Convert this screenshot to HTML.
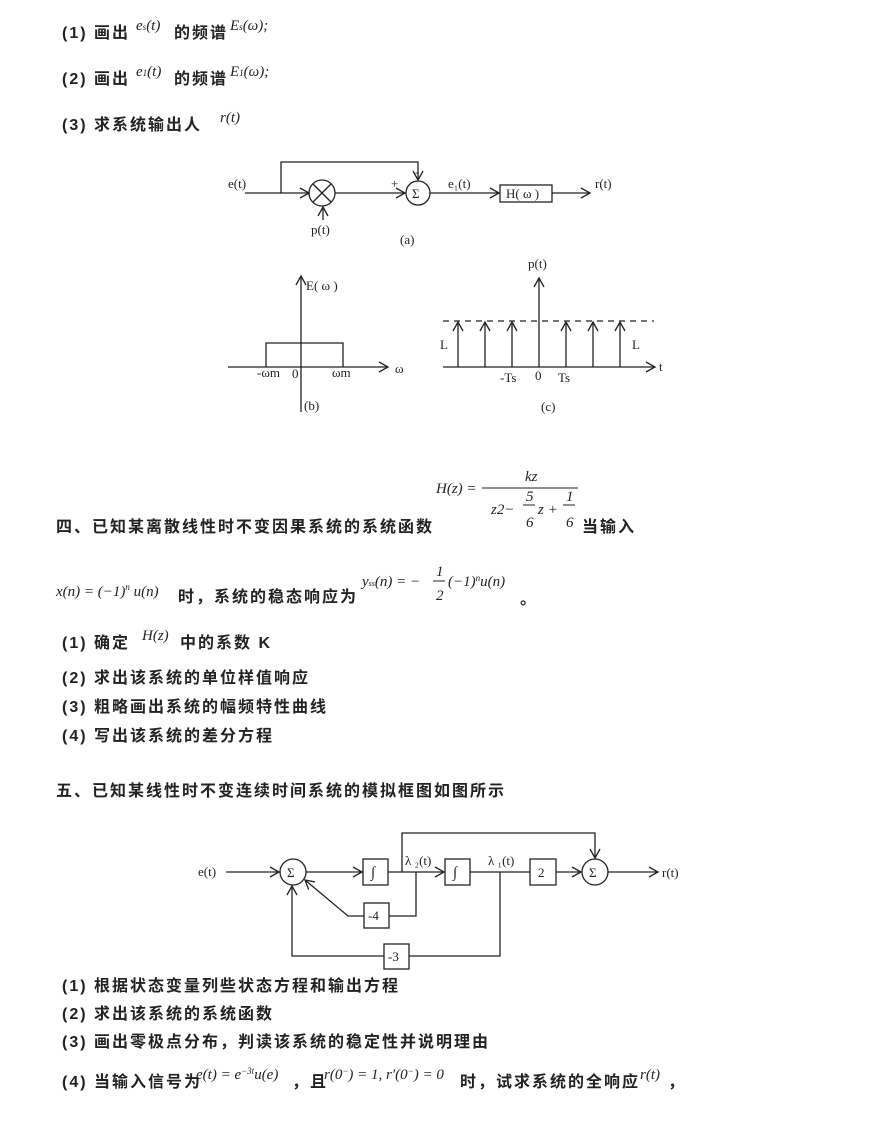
<!DOCTYPE html>
<html><head><meta charset="utf-8"><style>
html,body{margin:0;padding:0;background:#fff;}
svg{display:block}
.c{font-family:"Liberation Sans","Noto Sans CJK SC",sans-serif;font-size:16px;letter-spacing:2px;font-weight:bold;fill:#222}
.m{font-family:"Liberation Serif",serif;font-style:italic;font-size:15px;fill:#222}
.r{font-family:"Liberation Serif",serif;font-size:13px;fill:#222}
line,path,rect,circle,polyline{stroke:#222;stroke-width:1.3;fill:none}
</style></head><body>
<svg width="890" height="1122" viewBox="0 0 890 1122" xmlns="http://www.w3.org/2000/svg">
<defs><marker id="a" markerWidth="12" markerHeight="12" refX="10" refY="6" orient="auto" markerUnits="userSpaceOnUse"><path d="M1,1 L10,6 L1,11" style="stroke:#222;stroke-width:1.3;fill:none"/></marker></defs>

<text class="c" x="62" y="38">(1) 画出</text><text class="m" x="136" y="30">e<tspan font-size="9">s</tspan>(t)</text><text class="c" x="174" y="38">的频谱</text><text class="m" x="230" y="30">E<tspan font-size="9">s</tspan>(ω);</text>
<text class="c" x="62" y="84">(2) 画出</text><text class="m" x="136" y="76">e<tspan font-size="9">1</tspan>(t)</text><text class="c" x="174" y="84">的频谱</text><text class="m" x="230" y="76">E<tspan font-size="9">1</tspan>(ω);</text>
<text class="c" x="62" y="130">(3) 求系统输出人</text><text class="m" x="220" y="122">r(t)</text>

<!-- diagram a -->
<text class="r" x="228" y="188">e(t)</text>
<line x1="245" y1="193" x2="309" y2="193" marker-end="url(#a)"/>
<polyline points="281,193 281,162 418,162 418,180" marker-end="url(#a)"/>
<circle cx="322" cy="193" r="13"/>
<line x1="313" y1="184" x2="331" y2="202"/><line x1="331" y1="184" x2="313" y2="202"/>
<line x1="323" y1="220" x2="323" y2="207" marker-end="url(#a)"/>
<text class="r" x="311" y="234">p(t)</text>
<line x1="335" y1="193" x2="405" y2="193" marker-end="url(#a)"/>
<text class="r" x="391" y="188">+</text><text class="r" x="415" y="176">-</text>
<circle cx="418" cy="193" r="12"/><text class="r" x="412" y="198">Σ</text>
<line x1="430" y1="193" x2="499" y2="193" marker-end="url(#a)"/>
<text class="r" x="448" y="188">e₁(t)</text>
<rect x="500" y="185" width="52" height="17"/><text class="r" x="506" y="198">H( ω )</text>
<line x1="552" y1="193" x2="590" y2="193" marker-end="url(#a)"/>
<text class="r" x="595" y="188">r(t)</text>
<text class="r" x="400" y="244" font-size="15">(a)</text>

<!-- b -->
<line x1="301" y1="412" x2="301" y2="276" marker-end="url(#a)"/>
<text class="r" x="306" y="290">E( ω )</text>
<line x1="228" y1="367" x2="388" y2="367" marker-end="url(#a)"/>
<polyline points="266,367 266,343 343,343 343,367"/>
<text class="r" x="257" y="377" font-size="10">-ωm</text><text class="r" x="292" y="378" font-size="11">0</text><text class="r" x="332" y="377" font-size="10">ωm</text>
<text class="r" x="395" y="373">ω</text>
<text class="r" x="304" y="410" font-size="15">(b)</text>

<!-- c -->
<line x1="443" y1="367" x2="655" y2="367" marker-end="url(#a)"/>
<text class="r" x="659" y="371">t</text>
<line x1="443" y1="321" x2="654" y2="321" style="stroke-dasharray:6,5"/>
<line x1="539" y1="367" x2="539" y2="278" marker-end="url(#a)"/>
<text class="r" x="528" y="268">p(t)</text>
<line x1="458" y1="367" x2="458" y2="322" marker-end="url(#a)"/>
<line x1="485" y1="367" x2="485" y2="322" marker-end="url(#a)"/>
<line x1="512" y1="367" x2="512" y2="322" marker-end="url(#a)"/>
<line x1="566" y1="367" x2="566" y2="322" marker-end="url(#a)"/>
<line x1="593" y1="367" x2="593" y2="322" marker-end="url(#a)"/>
<line x1="620" y1="367" x2="620" y2="322" marker-end="url(#a)"/>
<text class="r" x="440" y="349" font-size="7">L</text><text class="r" x="632" y="349" font-size="7">L</text>
<text class="r" x="500" y="382">-Ts</text><text class="r" x="535" y="380" font-size="10">0</text><text class="r" x="558" y="382">Ts</text>
<text class="r" x="541" y="411" font-size="15">(c)</text>

<!-- 四 -->
<text class="m" x="436" y="493" font-size="15">H(z) =</text>
<text class="m" x="525" y="481" font-size="14">kz</text>
<line x1="482" y1="488" x2="578" y2="488" style="stroke-width:1"/>
<text class="m" x="491" y="514" font-size="14">z2−</text>
<text class="m" x="526" y="501" font-size="13">5</text><line x1="523" y1="505" x2="535" y2="505" style="stroke-width:1"/><text class="m" x="526" y="527" font-size="13">6</text>
<text class="m" x="538" y="514" font-size="14">z +</text>
<text class="m" x="566" y="501" font-size="13">1</text><line x1="563" y1="505" x2="575" y2="505" style="stroke-width:1"/><text class="m" x="566" y="527" font-size="13">6</text>
<text class="c" x="56" y="532">四、已知某离散线性时不变因果系统的系统函数</text>
<text class="c" x="582" y="532">当输入</text>
<text class="m" x="56" y="596">x(n) = (−1)<tspan font-size="9" dy="-6">n</tspan><tspan dy="6"> u(n)</tspan></text>
<text class="c" x="178" y="602">时，系统的稳态响应为</text>
<text class="m" x="362" y="586">y<tspan font-size="8">ss</tspan>(n) = −</text>
<text class="m" x="436" y="576" font-size="13">1</text><line x1="433" y1="581" x2="445" y2="581" style="stroke-width:1"/><text class="m" x="436" y="600" font-size="13">2</text>
<text class="m" x="448" y="586">(−1)<tspan font-size="9" dy="-5">n</tspan><tspan dy="5">u(n)</tspan></text>
<text class="c" x="520" y="604">。</text>

<text class="c" x="62" y="648">(1) 确定</text><text class="m" x="142" y="640">H(z)</text><text class="c" x="180" y="648">中的系数 K</text>
<text class="c" x="62" y="683">(2) 求出该系统的单位样值响应</text>
<text class="c" x="62" y="712">(3) 粗略画出系统的幅频特性曲线</text>
<text class="c" x="62" y="741">(4) 写出该系统的差分方程</text>
<text class="c" x="56" y="796">五、已知某线性时不变连续时间系统的模拟框图如图所示</text>

<!-- diagram 2 -->
<text class="r" x="198" y="876">e(t)</text>
<line x1="226" y1="872" x2="279" y2="872" marker-end="url(#a)"/>
<circle cx="293" cy="872" r="13"/><text class="r" x="287" y="877">Σ</text>
<line x1="306" y1="872" x2="362" y2="872" marker-end="url(#a)"/>
<rect x="363" y="859" width="25" height="26"/><text class="m" x="371" y="877">∫</text>
<line x1="388" y1="872" x2="444" y2="872" marker-end="url(#a)"/>
<text class="r" x="405" y="865">λ ₂(t)</text>
<rect x="445" y="859" width="25" height="26"/><text class="m" x="453" y="877">∫</text>
<polyline points="402,872 402,833 595,833 595,858" marker-end="url(#a)"/>
<line x1="470" y1="872" x2="530" y2="872"/>
<text class="r" x="488" y="865">λ ₁(t)</text>
<rect x="530" y="859" width="26" height="26"/><text class="r" x="538" y="877">2</text>
<line x1="556" y1="872" x2="581" y2="872" marker-end="url(#a)"/>
<circle cx="595" cy="872" r="13"/><text class="r" x="589" y="877">Σ</text>
<line x1="608" y1="872" x2="658" y2="872" marker-end="url(#a)"/>
<text class="r" x="662" y="877">r(t)</text>
<polyline points="416,872 416,916 389,916"/>
<rect x="364" y="903" width="25" height="25"/><text class="r" x="368" y="920">-4</text>
<polyline points="364,916 348,916 305,880" marker-end="url(#a)"/>
<polyline points="500,872 500,956 409,956"/>
<rect x="384" y="944" width="25" height="25"/><text class="r" x="388" y="961">-3</text>
<polyline points="384,956 292,956 292,886" marker-end="url(#a)"/>

<text class="c" x="62" y="991">(1) 根据状态变量列些状态方程和输出方程</text>
<text class="c" x="62" y="1019">(2) 求出该系统的系统函数</text>
<text class="c" x="62" y="1047">(3) 画出零极点分布，判读该系统的稳定性并说明理由</text>
<text class="c" x="62" y="1087">(4) 当输入信号为</text><text class="m" x="196" y="1079">e(t) = e<tspan font-size="9" dy="-5">−3t</tspan><tspan dy="5">u(e)</tspan></text>
<text class="c" x="292" y="1087">，且</text><text class="m" x="324" y="1079">r(0<tspan font-size="9" dy="-5">−</tspan><tspan dy="5">) = 1, r′(0</tspan><tspan font-size="9" dy="-5">−</tspan><tspan dy="5">) = 0</tspan></text>
<text class="c" x="460" y="1087">时，试求系统的全响应</text><text class="m" x="640" y="1079">r(t)</text><text class="c" x="668" y="1087">，</text>
</svg>
</body></html>
